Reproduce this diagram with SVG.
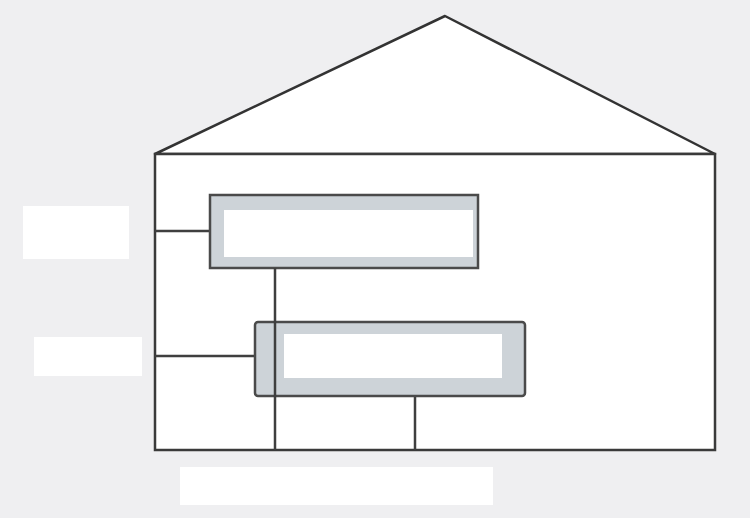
<svg xmlns="http://www.w3.org/2000/svg" width="750" height="518" viewBox="0 0 750 518">
<style>
.ln{stroke:#3f3f3f;stroke-width:2.5;fill:none}
.box{fill:#cdd3d8;stroke:#4a4a4a;stroke-width:2.5}
.in{fill:#ffffff}
.mask{fill:#ffffff}
</style>
<rect width="750" height="518" fill="#efeff1"/>
<g id="house">
<polygon points="155,154 445,16 715,154" fill="#ffffff" stroke="#333" stroke-width="2.5" stroke-linejoin="round"/>
<rect x="155" y="154" width="560" height="296" fill="#ffffff" stroke="#3a3a3a" stroke-width="2.5"/>
</g>
<g id="connectors">
<line class="ln" x1="155" y1="231" x2="210" y2="231"/>
<line class="ln" x1="155" y1="356" x2="255" y2="356"/>
<line class="ln" x1="415" y1="396" x2="415" y2="450"/>
</g>
<g id="node1">
<rect class="box" x="210" y="195" width="268" height="73"/>
<rect class="in" x="224" y="210" width="249" height="47"/>
</g>
<g id="node2">
<rect class="box" x="255" y="322" width="270" height="74" rx="3"/>
<rect class="in" x="284" y="334" width="218" height="44"/>
</g>
<g id="connector-vertical">
<line class="ln" x1="275" y1="268" x2="275" y2="450"/>
</g>
<g id="labels">
<rect class="mask" x="23" y="206" width="106" height="53"/>
<rect class="mask" x="34" y="337" width="108" height="39"/>
<rect class="mask" x="180" y="467" width="313" height="38"/>
</g>
</svg>
